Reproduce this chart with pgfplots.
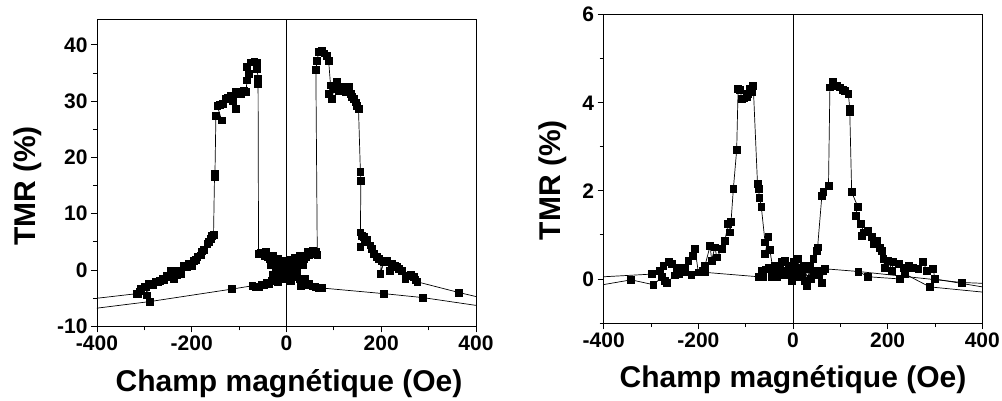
\documentclass[border=0pt]{standalone}
\usepackage{fontspec}
\setmainfont{Liberation Sans}
\usepackage{pgfplots}
\pgfplotsset{compat=1.18}
\pgfplotsset{
  tmr/.style={
    scale only axis,
    xmin=-400, xmax=400,
    xtick={-400,-200,0,200,400},
    minor x tick num=1,
    tick align=outside,
    tick pos=left,
    axis line style={line width=0.9pt, black},
    major tick length=6pt,
    minor tick length=4pt,
    every tick/.style={line width=0.9pt, black},
    ticklabel style={font=\bfseries\fontsize{21}{24}\selectfont},
    /pgf/number format/assume math mode=true,
    label style={font=\bfseries\fontsize{30}{36}\selectfont},
    clip=true,
  },
  sw/.style={black, line width=0.7pt, mark=square*, mark size=3.4pt, mark options={solid, fill=black}},
}
\begin{document}
\begin{tikzpicture}
\useasboundingbox (0pt,0pt) rectangle (1002pt,400pt);

% ---------------- left panel ----------------
\begin{axis}[tmr,
  at={(97pt,73.7pt)}, anchor=south west,
  width=379pt, height=307.3pt,
  ymin=-10, ymax=44.6,
  ytick={-10,0,10,20,30,40},
  minor y tick num=1,
  xlabel={Champ magnétique (Oe)},
  ylabel={TMR (\%)},
  xlabel style={at={(axis description cs:0.5066,-0.2128)}, anchor=base},
  ylabel style={at={(axis description cs:-0.1834,0.4566)}, anchor=center},
]
\draw[line width=0.8pt] (axis cs:0,-10) -- (axis cs:0,44.6);
\addplot[sw] coordinates {
(-450,-7.3) (-288,-5.6) (-116,-3.4) (-72,-2.8) (-65,-3.0) (-58,-3.0) (-52,-2.6) (-48,-2.7)
(-42,-2.3) (-37,-2.4) (-32,-1.9) (-28,-0.8) (-27,-1.5) (-22,-1.3) (-19,-2.2) (-16,-1.0)
(-13,0.3) (-11,-0.6) (-8,-1.6) (-6,-0.4) (-3,0.9) (0,0.0) (2,-1.2) (5,0.2) (7,1.8) (10,0.6)
(12,-0.5) (15,0.8) (17,2.2) (20,1.1) (23,0.1) (26,1.4) (28,2.6) (31,1.8) (34,0.9) (36,2.0)
(41,2.3) (44,3.3) (47,2.6) (52,2.8) (55,3.5) (58,2.9) (63,3.2) (65,2.7)
(62,35.5) (64.5,37.2) (68,38.7) (75,39.0) (80,38.5)
(86,38.1) (89,37.2) (93,32.8) (89,31.3) (96,30.4) (100,32.2) (107,33.4) (110,31.9)
(115,32.5) (121,32.2) (126,31.6) (131,32.5) (135,31.3) (138,30.8) (142,30.4) (146,29.8)
(149,29.2) (152,28.6) (156,17.4) (157,15.9) (156,6.7) (159,6.1) (163,5.9) (156,4.1)
(166,5.0) (170,5.3) (177,4.4) (180,3.8) (184,2.9) (191,2.3) (195,2.0) (201,1.7) (198,-0.7)
(206,1.5) (212,1.7) (219,-0.1) (222,1.1) (228,0.8) (233,0.5) (238,0.2) (244,-0.1)
(251,-1.5) (257,-1.0) (262,-0.9) (268,-1.2) (272,-1.8) (276,-2.1) (364,-4.0) (450,-5.7)
};
\addplot[sw] coordinates {
(450,-6.9) (288,-4.9) (206,-4.2) (75,-3.2) (68,-3.1) (61,-3.0) (55,-2.9) (47,-2.4)
(44,-2.7) (40,-1.6) (38,-2.1) (33,-1.8) (30,-2.8) (28,-1.6) (23,-1.2) (20,-0.2) (17,-1.0)
(12,-0.7) (9,-2.0) (6,-0.2) (3,1.0) (0,0.2) (-3,-1.1) (-5,0.4) (-8,1.6) (-10,0.8)
(-13,-0.3) (-15,0.9) (-18,2.0) (-20,1.3) (-23,0.3) (-25,1.5) (-28,2.5) (-30,1.8)
(-33,0.9) (-35,2.0) (-40,2.3) (-43,3.2) (-45,2.5) (-50,2.8) (-55,3.1) (-59,2.9)
(-60,33.1) (-60,34.0) (-62,35.8) (-62,36.9) (-68,37.0)
(-76,36.9) (-80,34.9) (-83,36.1) (-83,33.7) (-86,31.6) (-90,31.8) (-97,31.3) (-102,31.2)
(-107,31.6) (-107,28.7) (-114,30.1) (-118,31.0) (-123,30.6) (-128,30.4) (-135,29.5)
(-140,29.4) (-146,29.2) (-137,26.6) (-149,27.4) (-151,17.1) (-152,16.5) (-154,6.3)
(-157,6.1) (-160,5.6) (-164,5.0) (-167,4.7) (-174,3.6) (-178,3.3) (-181,2.6) (-188,2.3)
(-192,1.8) (-195,1.7) (-199,0.8) (-203,1.2) (-206,1.1) (-210,0.6) (-213,0.5) (-216,0.7)
(-223,-0.7) (-227,-0.1) (-232,-0.9) (-237,-1.5) (-241,-0.4) (-244,-0.1) (-248,-1.2)
(-252,-1.0) (-258,-1.8) (-262,-1.5) (-268,-1.9) (-272,-2.1) (-276,-2.1) (-281,-2.6)
(-286,-2.4) (-290,-2.4) (-294,-4.5) (-297,-3.0) (-300,-3.0) (-307,-3.3) (-310,-3.8)
(-314,-4.2) (-316,-4.2) (-450,-5.5)
};
\end{axis}

% ---------------- right panel ----------------
\begin{axis}[tmr,
  at={(603.7pt,77pt)}, anchor=south west,
  width=378.6pt, height=308.3pt,
  ymin=-1, ymax=6,
  ytick={0,2,4,6},
  minor ytick={-1,1,3,5},
  xlabel={Champ magnétique (Oe)},
  ylabel={TMR (\%)},
  xlabel style={at={(axis description cs:0.5,-0.2108)}, anchor=base},
  ylabel style={at={(axis description cs:-0.1339,0.4638)}, anchor=center},
]
\draw[line width=0.8pt] (axis cs:0,-1) -- (axis cs:0,6);
\addplot[sw] coordinates {
(-450,-0.22) (-342,-0.02) (-295,-0.13) (-277,0.04) (-270,-0.04) (-267,-0.08) (-249,0.08)
(-240,0.12) (-228,0.15) (-215,0.10) (-200,0.15) (-186,0.15) (-73,0.05) (-66,0.19)
(-63,0.04) (-57,0.22) (-52,0.26) (-45,0.04) (-38,0.11) (-31,0.19) (-24,0.38) (-20,0.08)
(-13,0.19) (-6,0.26) (-3,-0.04) (1,0.38) (8,0.15) (14,0.25) (18,0.04) (25,0.23) (29,-0.15)
(36,0.30) (43,0.45) (50,0.64) (52,0.72) (61,1.89) (64,1.97) (75,2.12) (78,4.35) (85,4.47)
(92,4.38) (99,4.35) (105,4.30) (110,4.28) (117,4.20) (120,3.86) (120,3.79) (124,1.97)
(137,1.64) (132,1.44) (144,1.25) (149,1.06) (145,0.98) (159,1.10) (166,0.95) (170,0.80)
(177,0.87) (183,0.70) (187,0.64) (191,0.45) (194,0.26) (201,0.42) (209,0.19) (212,0.38)
(223,0.34) (233,0.26) (244,0.30) (254,0.26) (265,0.23) (275,0.38) (283,0.19) (296,0.23)
(300,0.0) (450,-0.27)
};
\addplot[sw] coordinates {
(450,-0.35) (289,-0.18) (237,0.11) (226,0.0) (159,0.05) (138,0.17) (68,0.23) (64,0.19)
(61,-0.08) (55,0.10) (50,0.19) (43,0.11) (38,0.0) (32,0.22) (25,-0.04) (22,0.30) (15,0.12)
(11,0.45) (6,0.05) (0,0.20) (-6,0.10) (-10,0.30) (-17,0.42) (-24,0.15) (-28,0.30)
(-34,0.05) (-38,0.30) (-42,0.20) (-49,0.66) (-59,0.57) (-52,0.95) (-59,0.83) (-67,1.64)
(-71,1.85) (-73,2.05) (-75,2.16) (-84,4.39) (-87,4.24) (-91,4.32) (-95,4.20) (-98,4.13)
(-104,4.10) (-108,4.09) (-112,4.30) (-116,4.32) (-119,2.93) (-126,2.05) (-131,1.29)
(-133,1.06) (-137,1.25) (-144,0.87) (-151,0.68) (-161,0.49) (-165,0.72) (-172,0.42)
(-175,0.76) (-186,0.30) (-190,0.19) (-200,0.15) (-207,0.68) (-211,0.53) (-221,0.42)
(-228,0.26) (-235,0.19) (-246,0.26) (-256,0.34) (-263,0.38) (-274,0.30) (-281,0.19)
(-299,0.11) (-450,0.02)
};
\addplot[sw] coordinates {
(138,0.17) (356,-0.08) (450,-0.12)
};
\end{axis}
\end{tikzpicture}
\end{document}
